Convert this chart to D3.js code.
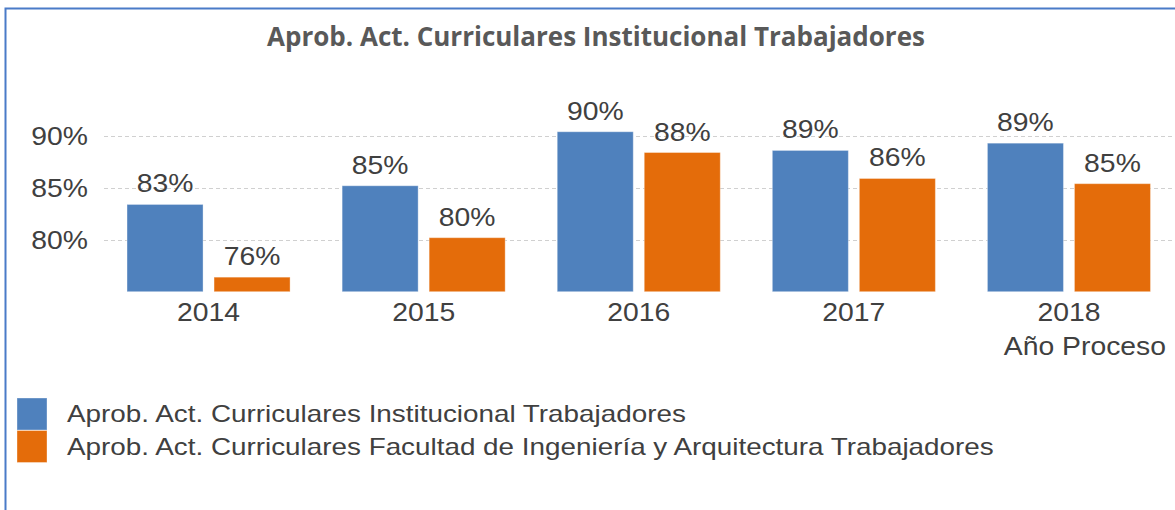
<!DOCTYPE html>
<html>
<head>
<meta charset="utf-8">
<script src="https://cdn.jsdelivr.net/npm/d3@7"></script>
<style>
  html, body { margin: 0; padding: 0; background: #fff; }
  svg { display: block; }
</style>
</head>
<body>
<svg id="chart" width="1175" height="510"></svg>
<script>
const title = "Aprob. Act. Curriculares Institucional Trabajadores";
const years = ["2014", "2015", "2016", "2017", "2018"];
const seriesNames = [
  "Aprob. Act. Curriculares Institucional Trabajadores",
  "Aprob. Act. Curriculares Facultad de Ingeniería y Arquitectura Trabajadores"
];
const institucional = [83.4, 85.2, 90.4, 88.6, 89.3];
const facultad = [76.4, 80.2, 88.4, 85.9, 85.4];
const yTicks = [80, 85, 90];
const xAxisTitle = "Año Proceso";
const colors = ["#4F81BD", "#E46C0A"];

const svg = d3.select("#chart");
const textColor = "#404040";
const font = "'Liberation Sans', Arial, sans-serif";
const sx = 1.09;   // horizontal stretch of axis/data text
const sxLeg = 1.16;

// frame
svg.append("rect")
  .attr("x", 5.5).attr("y", 8.5).attr("width", 1300).attr("height", 600)
  .attr("fill", "none").attr("stroke", "#4A7BC8").attr("stroke-width", 2);

// title
svg.append("text")
  .attr("x", 596).attr("y", 46)
  .attr("text-anchor", "middle")
  .attr("font-family", "'Open Sans', sans-serif")
  .attr("font-weight", "bold")
  .attr("font-size", 26)
  .attr("fill", "#595959")
  .text(title);

const y = d3.scaleLinear().domain([75, 90]).range([291.7, 135.9]);
const x0 = d3.scaleBand().domain(years).range([101, 1176.5]).paddingInner(0.242).paddingOuter(0.121);
const x1 = d3.scaleBand().domain([0, 1]).range([0, x0.bandwidth()]).paddingInner(0.1264);

// gridlines
svg.append("g").selectAll("line").data(yTicks).join("line")
  .attr("x1", 104).attr("x2", 1175)
  .attr("y1", d => Math.round(y(d)) + 0.5).attr("y2", d => Math.round(y(d)) + 0.5)
  .attr("stroke", "#D0D0D0").attr("stroke-width", 1).attr("stroke-dasharray", "4,3");

function txt(sel, size, s) {
  return sel.attr("font-family", font).attr("font-size", size).attr("fill", textColor)
    .attr("x", 0).attr("y", 0);
}

// y tick labels
svg.append("g").selectAll("text").data(yTicks).join("text")
  .call(s => txt(s, 26))
  .attr("transform", d => `translate(88,${y(d) + 9.5}) scale(${sx},1)`)
  .attr("text-anchor", "end")
  .text(d => d + "%");

const data = years.map((yr, i) => ({ year: yr, vals: [institucional[i], facultad[i]] }));

const groups = svg.append("g").selectAll("g").data(data).join("g")
  .attr("transform", d => `translate(${x0(d.year)},0)`);

groups.selectAll("rect").data(d => d.vals.map((v, k) => ({ v, k }))).join("rect")
  .attr("x", d => x1(d.k))
  .attr("y", d => y(d.v))
  .attr("width", x1.bandwidth())
  .attr("height", d => y(75) - y(d.v))
  .attr("fill", d => colors[d.k])
  .attr("stroke", "rgba(255,255,255,0.35)").attr("stroke-width", 1);

groups.selectAll("text.lbl").data(d => d.vals.map((v, k) => ({ v, k }))).join("text")
  .attr("class", "lbl")
  .call(s => txt(s, 26))
  .attr("transform", d => `translate(${x1(d.k) + x1.bandwidth() / 2},${y(d.v) - 12}) scale(${sx},1)`)
  .attr("text-anchor", "middle")
  .text(d => Math.round(d.v) + "%");

// x labels
svg.append("g").selectAll("text").data(years).join("text")
  .call(s => txt(s, 26))
  .attr("transform", d => `translate(${x0(d) + x0.bandwidth() / 2},321) scale(${sx},1)`)
  .attr("text-anchor", "middle")
  .text(d => d);

svg.append("text")
  .call(s => txt(s, 26))
  .attr("transform", `translate(1166,355) scale(${sx},1)`)
  .attr("text-anchor", "end")
  .text(xAxisTitle);

// legend
const leg = svg.append("g").selectAll("g").data(seriesNames).join("g")
  .attr("transform", (d, i) => `translate(17, ${398 + i * 32.5})`);
leg.append("rect").attr("width", 30).attr("height", 32)
  .attr("fill", (d, i) => colors[i])
  .attr("stroke", "rgba(255,255,255,0.35)").attr("stroke-width", 1);
leg.append("text")
  .call(s => txt(s, 24))
  .attr("transform", `translate(50,24) scale(${sxLeg},1)`)
  .text(d => d);
</script>
</body>
</html>
